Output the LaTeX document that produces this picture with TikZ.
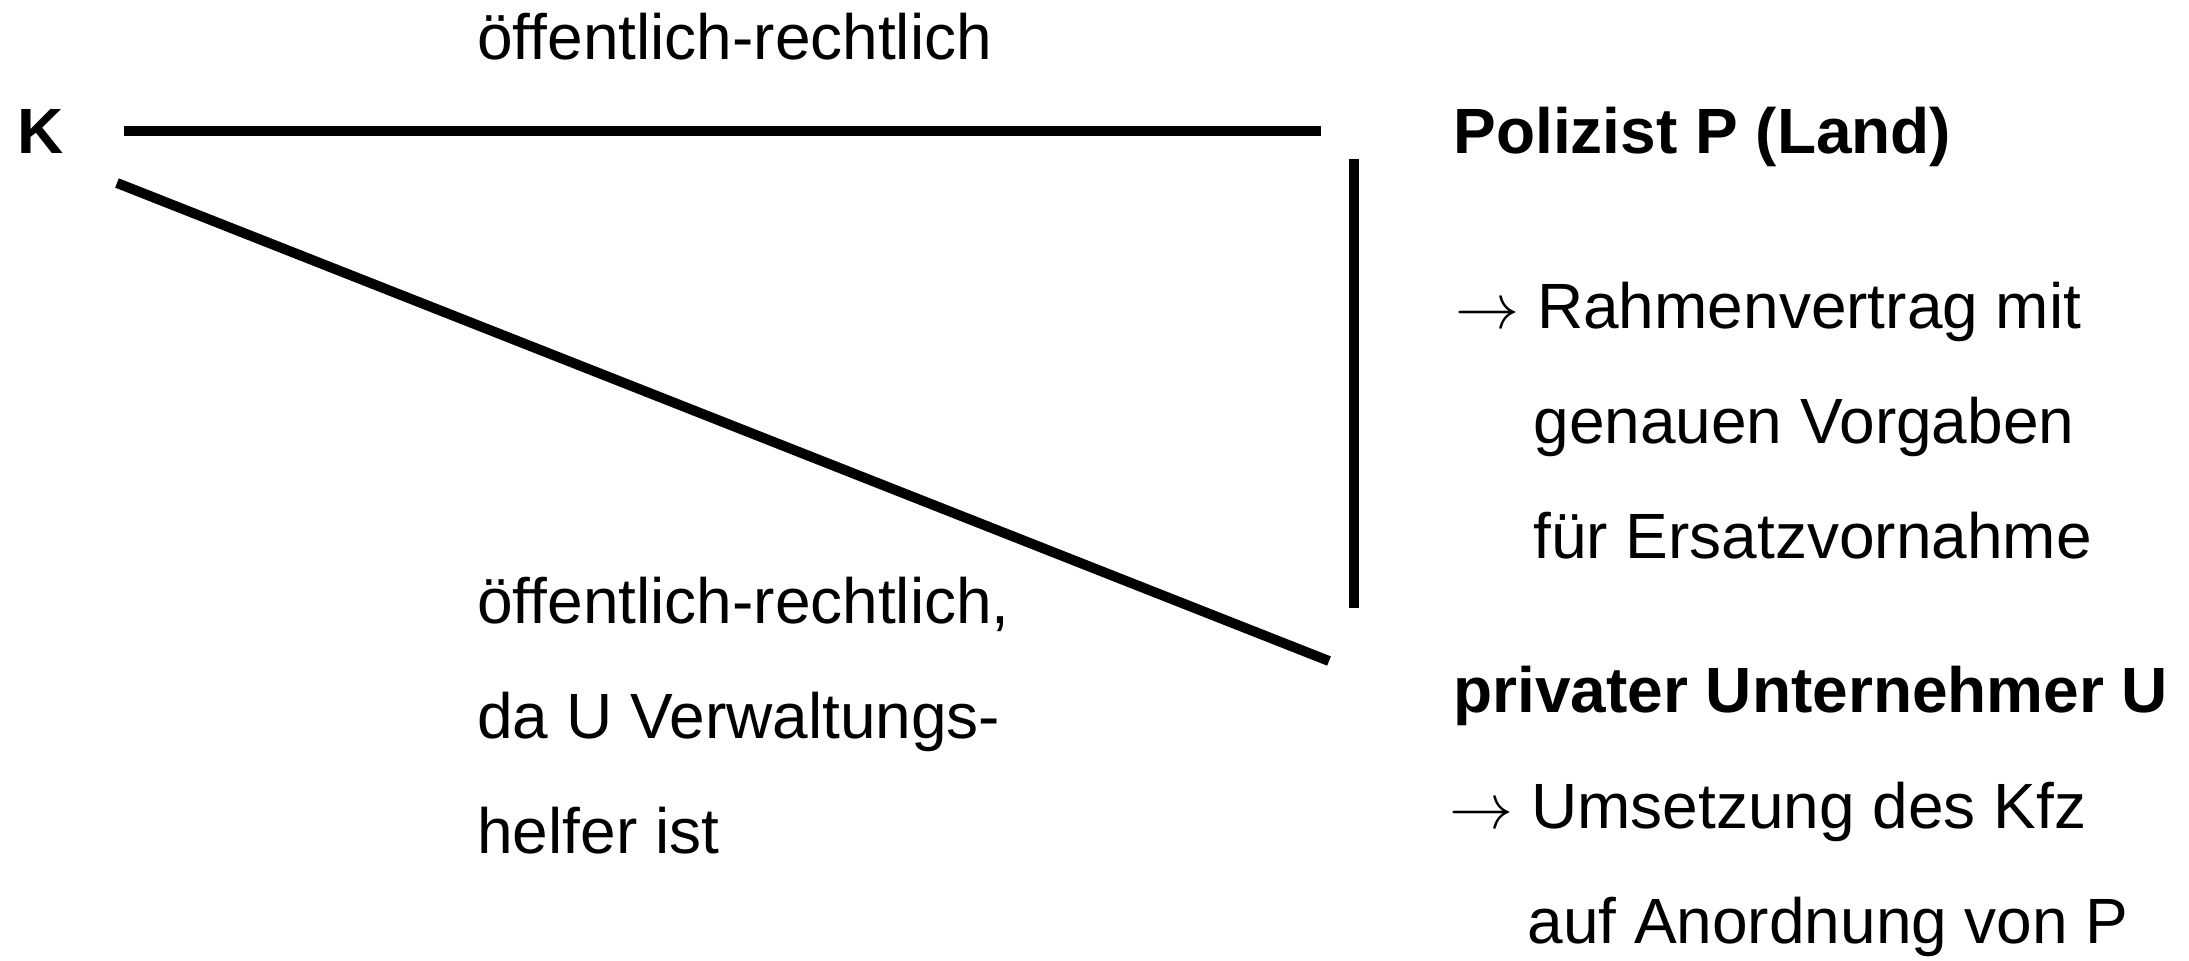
\documentclass[tikz,border=0pt]{standalone}
\usepackage{fix-cm}
\usepackage{fontspec}
\setmainfont{Liberation Sans}
\usepackage{tikz}
\usetikzlibrary{positioning}

\tikzset{
  txt/.style={inner sep=0pt, anchor=base west, align=left,
    font=\fontsize{32}{57.5}\selectfont},
  bold/.style={txt, font=\fontsize{32}{57.5}\selectfont\bfseries},
  rel/.style={line width=5pt}
}
\newcommand{\ind}{\hspace*{39pt}}

\begin{document}
\begin{tikzpicture}[x=0.5pt, y=-0.5pt]
\useasboundingbox (0,0) rectangle (2189,960);
% parties
\node[bold] (k) at (17,153) {K};
\node[bold] (p) at (1453,153) {Polizist P (Land)};
\node[bold] (u) at (1453,712) {privater Unternehmer U};
% notes (base = last line)
\node[txt] (pnote) at (1455,558) {$\rightarrow$ Rahmenvertrag mit\\ \ind genauen Vorgaben\\ \ind f\"ur Ersatzvornahme};
\node[txt] (unote) at (1449,943) {$\rightarrow$ Umsetzung des Kfz\\ \ind auf Anordnung von P};
\node[txt] (kp) at (477,59) {\"offentlich-rechtlich};
\node[txt] (ku) at (477,853) {\"offentlich-rechtlich,\\da U Verwaltungs-\\helfer ist};
% line ends
\coordinate (kp1) at (124,131);
\coordinate (kp2) at (1321,131);
\coordinate (pu1) at (1354,159);
\coordinate (pu2) at (1354,608);
\coordinate (ku1) at (117,183);
\coordinate (ku2) at (1329,661);
\draw[rel] (kp1) -- (kp2);
\draw[rel] (pu1) -- (pu2);
\draw[rel] (ku1) -- (ku2);
\end{tikzpicture}
\end{document}
